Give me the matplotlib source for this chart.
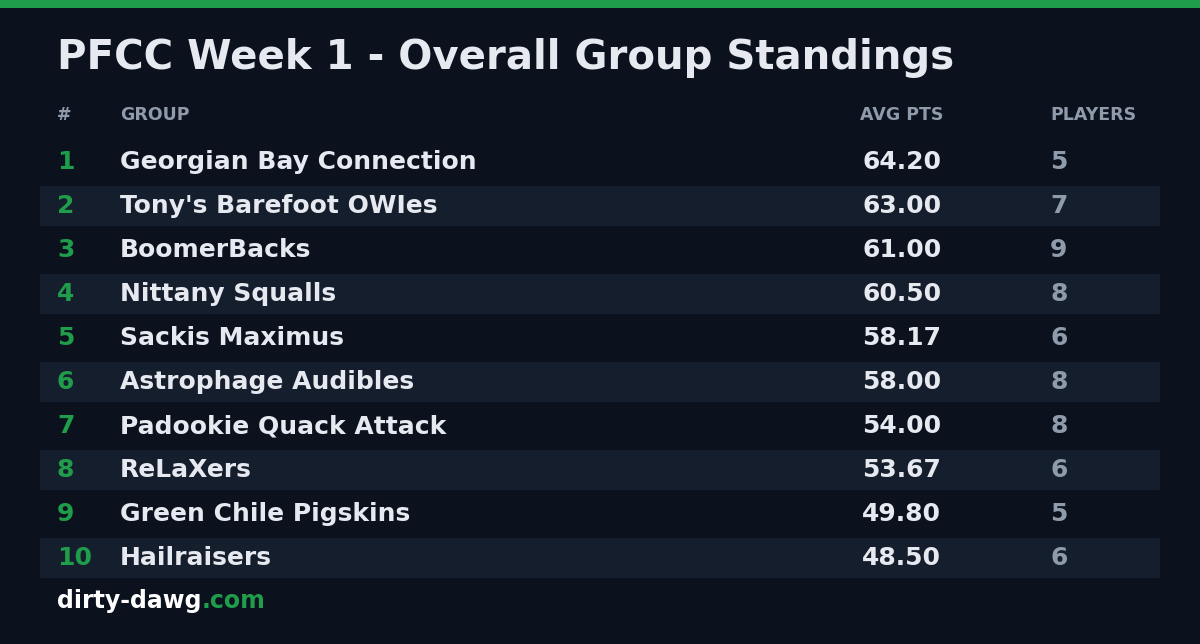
import matplotlib.pyplot as plt

plt.rcParams['font.family'] = ['DejaVu Sans']

ranks = [1, 2, 3, 4, 5, 6, 7, 8, 9, 10]
groups = ["Georgian Bay Connection", "Tony's Barefoot OWIes", "BoomerBacks",
          "Nittany Squalls", "Sackis Maximus", "Astrophage Audibles",
          "Padookie Quack Attack", "ReLaXers", "Green Chile Pigskins", "Hailraisers"]
avg_pts = [64.20, 63.00, 61.00, 60.50, 58.17, 58.00, 54.00, 53.67, 49.80, 48.50]
players = [5, 7, 9, 8, 6, 8, 8, 6, 5, 6]

bg = "#0b121e"
green = "#1f9d4a"
text_c = "#e6e9ef"
muted = "#8f9aab"

fig = plt.figure(figsize=(12, 6.44), dpi=100, facecolor=bg)
ax = fig.add_axes([0, 0, 1, 1])
ax.set_facecolor(bg)
ax.set_xlim(0, 1200)
ax.set_ylim(644, 0)
ax.axis("off")

# top accent bar
ax.add_patch(plt.Rectangle((0, 0), 1200, 8, color=green, lw=0))

ax.text(57, 58, "PFCC Week 1 - Overall Group Standings", color=text_c,
        fontsize=29, fontweight="bold", va="center")

hy = 115
for x, lab in [(57, "#"), (120, "GROUP"), (860, "AVG PTS"), (1050, "PLAYERS")]:
    ax.text(x, hy, lab, color=muted, fontsize=12.5, fontweight="bold", va="center")

y0, step = 162, 44
for i, (r, g, a, p) in enumerate(zip(ranks, groups, avg_pts, players)):
    y = y0 + i * step
    if i % 2 == 1:
        ax.add_patch(plt.Rectangle((40, y - 20), 1120, 40, color="#151e2c", lw=0))
    ax.text(57, y, str(r), color=green, fontsize=18, fontweight="bold", va="center")
    ax.text(120, y, g, color=text_c, fontsize=18, fontweight="bold", va="center")
    ax.text(862, y, f"{a:.2f}", color=text_c, fontsize=18, fontweight="bold", va="center")
    ax.text(1050, y, str(p), color=muted, fontsize=18, fontweight="bold", va="center")

t = ax.text(57, 601, "dirty-dawg", color="white", fontsize=17, fontweight="bold", va="center")
fig.canvas.draw()
bb = t.get_window_extent()
x_end = ax.transData.inverted().transform((bb.x1, 0))[0]
ax.text(x_end, 601, ".com", color=green, fontsize=17, fontweight="bold", va="center")

fig.savefig("out.png", dpi=100, facecolor=bg)
